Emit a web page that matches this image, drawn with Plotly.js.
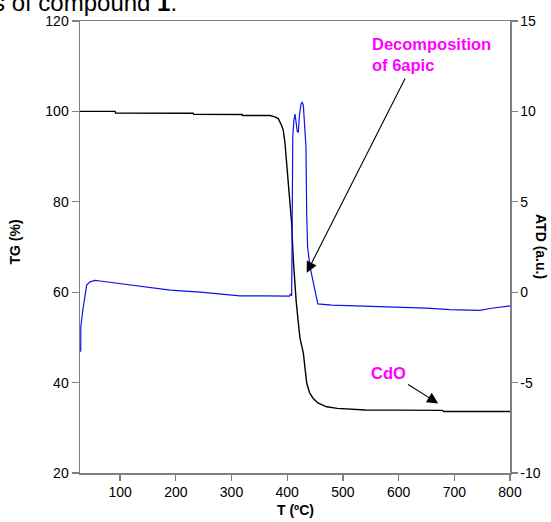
<!DOCTYPE html>
<html>
<head>
<meta charset="utf-8">
<script src="https://cdn.plot.ly/plotly-3.0.1.min.js"></script>
<style>html,body{margin:0;padding:0;background:#fff;}#chart{width:551px;height:522px;}</style>
</head>
<body>
<div id="chart"></div>
<script>
// TG curve (left axis, %)
const tgTemp = [28, 91, 92, 231, 232, 319, 320, 369, 378, 384, 390, 393, 396, 399, 402, 405, 408, 411, 414, 416, 419.5, 423, 429, 432, 435, 440, 446, 455, 471, 490, 513, 540, 600, 679, 681, 800];
const tgValues = [100, 100, 99.65, 99.6, 99.35, 99.3, 99.1, 99.1, 98.8, 98.4, 96.9, 95.8, 93, 88.4, 84.5, 81.1, 75.2, 67.1, 61.2, 58.2, 53.8, 49.8, 46.5, 42.8, 39.9, 37.8, 36.6, 35.5, 34.65, 34.3, 34.1, 33.95, 33.9, 33.85, 33.6, 33.6];

// ATD curve (right axis, a.u.)
const atdTemp = [29.3, 29.5, 33, 35.8, 40, 46, 55, 64, 100, 136, 190, 244, 280, 315, 360, 404, 406, 408, 409, 410, 412, 414, 416, 418, 420, 422, 425, 427, 429, 431, 433.7, 435, 436.6, 441, 445.7, 449, 453, 455, 480, 520, 560, 602, 650, 692, 720, 746, 764, 780, 800];
const atdValues = [-3.3, -1.9, -1.0, -0.35, 0.39, 0.57, 0.65, 0.62, 0.47, 0.33, 0.12, 0.0, -0.1, -0.2, -0.2, -0.22, -0.1, -0.2, 4, 8.6, 9.5, 9.85, 9.4, 8.9, 8.86, 9.8, 10.44, 10.5, 10.33, 9.5, 8.03, 4.35, 2.5, 1.4, 0.66, 0.1, -0.35, -0.65, -0.72, -0.75, -0.8, -0.81, -0.88, -0.96, -0.98, -1.0, -0.9, -0.85, -0.76];

// Ticks
const xTicks = [100, 200, 300, 400, 500, 600, 700, 800];
const tgTicks = [20, 40, 60, 80, 100, 120];
const atdTicks = [-10, -5, 0, 5, 10, 15];
const atdTickText = ["-10", "-5", "0", "5", "10", "15"];

const FONT = "Arial, 'Liberation Sans', sans-serif";
const AX = '#808080';

const traces = [
  {x: tgTemp, y: tgValues, type: 'scatter', mode: 'lines', line: {color: '#000000', width: 1.4}, xaxis: 'x', yaxis: 'y', hoverinfo: 'skip'},
  {x: atdTemp, y: atdValues, type: 'scatter', mode: 'lines', line: {color: '#1010ee', width: 1.2}, xaxis: 'x', yaxis: 'y2', hoverinfo: 'skip'}
];

const layout = {
  width: 551, height: 522,
  margin: {l: 80, r: 41, t: 21, b: 49, pad: 0},
  paper_bgcolor: '#ffffff', plot_bgcolor: '#ffffff',
  showlegend: false,
  font: {family: FONT, color: '#000', size: 14},
  xaxis: {
    range: [28, 800], tickvals: xTicks, ticks: 'outside', ticklen: 6, tickwidth: 1.3, tickcolor: AX,
    showline: true, linecolor: AX, linewidth: 1.5, mirror: true, showgrid: false, zeroline: false,
    tickfont: {size: 14, color: '#000'}
  },
  yaxis: {
    range: [20, 120], tickvals: tgTicks, ticks: 'outside', ticklen: 7, tickwidth: 1.3, tickcolor: AX,
    showline: true, linecolor: AX, linewidth: 1.5, showgrid: false, zeroline: false,
    tickfont: {size: 14, color: '#000'}
  },
  yaxis2: {
    range: [-10, 15], tickvals: atdTicks, ticktext: atdTickText, overlaying: 'y', side: 'right',
    ticks: 'outside', ticklen: 6, tickwidth: 1.3, tickcolor: AX,
    showline: true, linecolor: AX, linewidth: 1.5, showgrid: false, zeroline: false,
    tickfont: {size: 14, color: '#000'}
  },
  annotations: [
    {text: 's of compound <b>1</b>.', xref: 'paper', yref: 'paper', x: -0.207, y: 1.04, xanchor: 'left', yanchor: 'middle', showarrow: false, font: {size: 24, color: '#000'}},
    {text: '<b>Decomposition<br>of 6apic</b>', xref: 'x', yref: 'y', x: 549, y: 112.5, xanchor: 'left', yanchor: 'middle', align: 'left', showarrow: false, font: {size: 16.5, color: '#ff00ff'}},
    {text: '', xref: 'x', yref: 'y', x: 435, y: 64.3, ax: 613, ay: 107.6, axref: 'x', ayref: 'y', showarrow: true, arrowhead: 2, arrowsize: 2, arrowwidth: 1.1, arrowcolor: '#000'},
    {text: '<b>CdO</b>', xref: 'x', yref: 'y', x: 581, y: 42.1, xanchor: 'center', yanchor: 'middle', showarrow: false, font: {size: 16.5, color: '#ff00ff'}},
    {text: '', xref: 'x', yref: 'y', x: 671, y: 35.4, ax: 614.5, ay: 39.8, axref: 'x', ayref: 'y', showarrow: true, arrowhead: 2, arrowsize: 2, arrowwidth: 1.1, arrowcolor: '#000'},
    {text: '<b>TG (%)</b>', xref: 'paper', yref: 'paper', x: -0.151, y: 0.51, xanchor: 'center', yanchor: 'middle', textangle: -90, showarrow: false, font: {size: 14, color: '#000'}},
    {text: '<b>ATD (a.u.)</b>', xref: 'paper', yref: 'paper', x: 1.072, y: 0.5, xanchor: 'center', yanchor: 'middle', textangle: 90, showarrow: false, font: {size: 14, color: '#000'}},
    {text: '<b>T (ºC)</b>', xref: 'paper', yref: 'paper', x: 0.5, y: -0.082, xanchor: 'center', yanchor: 'middle', showarrow: false, font: {size: 14, color: '#000'}}
  ]
};

Plotly.newPlot('chart', traces, layout, {displayModeBar: false, staticPlot: true});
</script>
</body>
</html>
